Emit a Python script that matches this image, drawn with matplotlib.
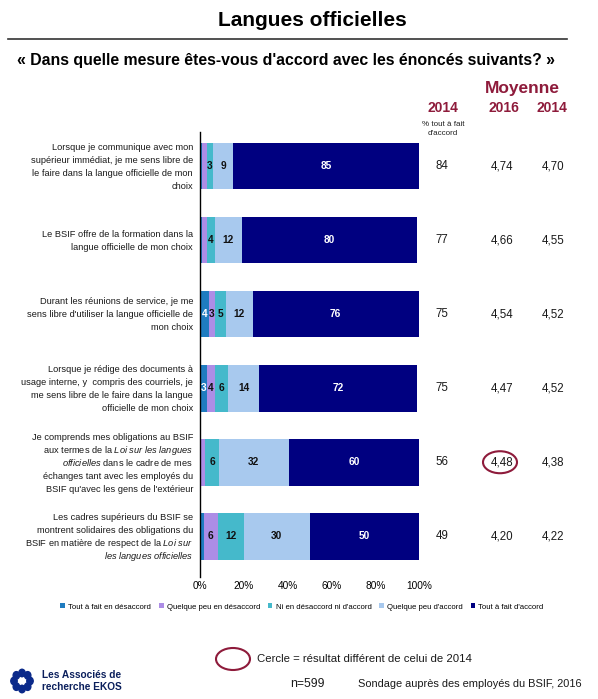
import matplotlib
matplotlib.use("Agg")
import matplotlib.pyplot as plt
from matplotlib.patches import Ellipse, Circle
from matplotlib.lines import Line2D
from matplotlib.transforms import blended_transform_factory, offset_copy
import numpy as np

plt.rcParams['font.family'] = ['Liberation Sans', 'DejaVu Sans']
plt.rcParams['mathtext.fontset'] = 'custom'
plt.rcParams['mathtext.rm'] = 'Liberation Sans'
plt.rcParams['mathtext.it'] = 'Liberation Sans:italic'

statements = [
    "Lorsque je communique avec mon\nsupérieur immédiat, je me sens libre de\nle faire dans la langue officielle de mon\nchoix",
    "Le BSIF offre de la formation dans la\nlangue officielle de mon choix",
    "Durant les réunions de service, je me\nsens libre d'utiliser la langue officielle de\nmon choix",
    "Lorsque je rédige des documents à\nusage interne, y  compris des courriels, je\nme sens libre de le faire dans la langue\nofficielle de mon choix",
    "Je comprends mes obligations au BSIF\naux termes de la $\\mathit{Loi\\ sur\\ les\\ langues}$\n$\\mathit{officielles}$ dans le cadre de mes\néchanges tant avec les employés du\nBSIF qu'avec les gens de l'extérieur",
    "Les cadres supérieurs du BSIF se\nmontrent solidaires des obligations du\nBSIF en matière de respect de la $\\mathit{Loi\\ sur}$\n$\\mathit{les\\ langues\\ officielles}$",
]
series_names = ["Tout à fait en désaccord", "Quelque peu en désaccord",
                "Ni en désaccord ni d'accord", "Quelque peu d'accord",
                "Tout à fait d'accord"]
values = {
    "Tout à fait en désaccord": [1, 1, 4, 3, 0.5, 2],
    "Quelque peu en désaccord": [2, 2, 3, 4, 2, 6],
    "Ni en désaccord ni d'accord": [3, 4, 5, 6, 6, 12],
    "Quelque peu d'accord": [9, 12, 12, 14, 32, 30],
    "Tout à fait d'accord": [85, 80, 76, 72, 60, 50],
}
pct_2014 = ["84", "77", "75", "75", "56", "49"]
mean_2016 = ["4,74", "4,66", "4,54", "4,47", "4,48", "4,20"]
mean_2014 = ["4,70", "4,55", "4,52", "4,52", "4,38", "4,22"]
circled = [False, False, False, False, True, False]

colors = ["#1f7cc0", "#ad8de6", "#45b9cb", "#a8c9ee", "#000080"]
maroon = "#8e1b3b"

W, H = 598, 699
fig = plt.figure(figsize=(W / 100, H / 100), dpi=100)


def fx(px):
    return px / W


def fy(py):
    return 1 - py / H


ax = fig.add_axes([fx(200), fy(577), fx(419) - fx(200), fy(132) - fy(577)])
y = np.arange(len(statements))
left = np.zeros(len(statements))
containers = []
for name, col in zip(series_names, colors):
    vals = np.array(values[name], dtype=float)
    bars = ax.barh(y, vals, left=left, height=0.63, color=col, edgecolor='none', label=name)
    containers.append(bars)
    for i, v in enumerate(vals):
        if v >= 3:
            tc = 'white' if col in ("#000080", "#1f7cc0") else '#111111'
            ax.text(left[i] + v / 2, y[i], "%d" % v, ha='center', va='center',
                    fontsize=7.3, fontweight='bold', color=tc)
    left += vals

ax.set_xlim(0, 100)
ax.set_ylim(len(statements) - 0.45, -0.46)
ax.set_xticks([0, 20, 40, 60, 80, 100])
ax.set_xticklabels(["0%", "20%", "40%", "60%", "80%", "100%"])
ax.tick_params(axis='x', length=0, labelsize=7.3, pad=3)
ax.set_yticks([])
for s in ['top', 'right', 'bottom']:
    ax.spines[s].set_visible(False)
ax.spines['left'].set_linewidth(1.0)

tr = blended_transform_factory(fig.transFigure, ax.transData)
line_px = 13
for i, lab in enumerate(statements):
    lines = lab.split("\n")
    n = len(lines)
    for j, ln in enumerate(lines):
        dy = ((n - 1) / 2 - j) * line_px - 3.3
        t = offset_copy(tr, fig=fig, x=0, y=dy, units='dots')
        ax.text(fx(193), y[i], ln, transform=t, ha='right', va='baseline',
                fontsize=6.7, color='#1a1a1a')
    ax.text(fx(442), y[i], pct_2014[i], transform=tr, ha='center', va='center',
            fontsize=8.3, color='#1a1a1a')
    ax.text(fx(502), y[i], mean_2016[i], transform=tr, ha='center', va='center',
            fontsize=8.3, color='#1a1a1a')
    ax.text(fx(553), y[i], mean_2014[i], transform=tr, ha='center', va='center',
            fontsize=8.3, color='#1a1a1a')
    if circled[i]:
        pts = tr.transform((fx(500), y[i]))
        cx, cy = fig.transFigure.inverted().transform(pts)
        fig.patches.append(Ellipse((cx, cy), 34 / W, 22 / H, transform=fig.transFigure,
                                   fill=False, edgecolor=maroon, lw=1.5))

# headers
fig.text(fx(312), fy(20), "Langues officielles", ha='center', va='center',
         fontsize=15, fontweight='bold')
fig.add_artist(Line2D([fx(8), fx(567)], [fy(39), fy(39)], color='#333333', lw=1.2))
fig.text(fx(17), fy(60), "« Dans quelle mesure êtes-vous d'accord avec les énoncés suivants? »",
         ha='left', va='center', fontsize=11.4, fontweight='bold')
fig.text(fx(522), fy(89), "Moyenne", ha='center', va='center', fontsize=12.5,
         fontweight='bold', color=maroon)
fig.text(fx(504), fy(108), "2016", ha='center', va='center', fontsize=10,
         fontweight='bold', color=maroon)
fig.text(fx(552), fy(108), "2014", ha='center', va='center', fontsize=10,
         fontweight='bold', color=maroon)
fig.text(fx(443), fy(108), "2014", ha='center', va='center', fontsize=10,
         fontweight='bold', color=maroon)
fig.text(fx(443), fy(129), "% tout à fait\nd'accord", ha='center', va='center',
         fontsize=5.8, color='#222222', linespacing=1.3)

# legend
fig.legend(handles=containers, labels=series_names, loc='center', ncol=5,
           bbox_to_anchor=(fx(302), fy(607)), frameon=False, fontsize=5.6,
           handlelength=0.6, handleheight=0.6, handletextpad=0.4, columnspacing=1.0)

# footer
fig.patches.append(Ellipse((fx(233), fy(659)), 34 / W, 22 / H, transform=fig.transFigure,
                           fill=False, edgecolor=maroon, lw=1.5))
fig.text(fx(257), fy(659), "Cercle = résultat différent de celui de 2014", ha='left',
         va='center', fontsize=8.2, color='#1a1a1a')
fig.text(fx(290), fy(684), "n=599", ha='left', va='center', fontsize=8.8, color='#1a1a1a')
fig.text(fx(358), fy(684), "Sondage auprès des employés du BSIF, 2016", ha='left',
         va='center', fontsize=7.9, color='#1a1a1a')

# EKOS logo
for k in range(8):
    a = k * np.pi / 4
    fig.patches.append(Circle((fx(22 + 8 * np.cos(a)), fy(681 - 8 * np.sin(a))), 3.2 / W,
                              transform=fig.transFigure, color='#0b2a8a'))
fig.text(fx(42), fy(681), "Les Associés de\nrecherche EKOS", ha='left', va='center',
         fontsize=7.3, fontweight='bold', color='#0b1f5c', linespacing=1.3)

fig.savefig("out.png", dpi=100)
